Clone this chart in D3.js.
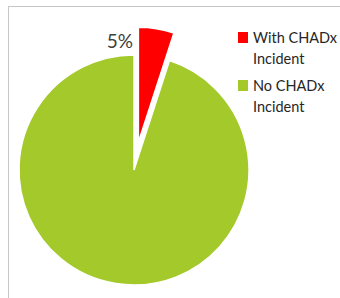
<!DOCTYPE html>
<html>
<head>
<meta charset="utf-8">
<script src="https://cdn.jsdelivr.net/npm/d3@7"></script>
<style>
  body { margin: 0; background: #fff; }
  svg { display: block; }
</style>
</head>
<body>
<svg id="chart"></svg>
<script>
// chart data
var categories = ["With CHADx Incident", "No CHADx Incident"];
var legendLines = [["With CHADx", "Incident"], ["No CHADx", "Incident"]];
var values = [5, 95];
var colors = ["#ff0000", "#a3c92a"];

var svgWidth = 340, svgHeight = 298;
var cx = 134, cy = 170, radius = 115, explode = 28;

var svg = d3.select('#chart')
    .attr("width", svgWidth)
    .attr("height", svgHeight);

// outer frame (only top and left show in the crop)
svg.append("rect")
    .attr("x", 8.5).attr("y", 6.5)
    .attr("width", 400).attr("height", 400)
    .attr("fill", "none")
    .attr("stroke", "#c6c6c6");

var pie = d3.pie().sort(null).value(function (d) { return d; });
var arcs = pie(values);

var arc = d3.arc().innerRadius(0).outerRadius(radius);

var g = svg.append("g")
    .attr("transform", "translate(" + cx + "," + cy + ")");

g.selectAll("path")
    .data(arcs)
    .enter()
    .append("path")
    .attr("d", arc)
    .attr("fill", function (d, i) { return colors[i]; })
    .attr("stroke", "#fff")
    .attr("stroke-width", 1.5)
    .attr("transform", function (d, i) {
        if (i != 0) return null;
        var mid = (d.startAngle + d.endAngle) / 2;
        return "translate(" + [Math.sin(mid) * explode, -Math.cos(mid) * explode] + ")";
    });

// percentage label for the small slice
var total = d3.sum(values);
svg.append("text")
    .attr("x", 133)
    .attr("y", 48)
    .attr("text-anchor", "end")
    .attr("font-family", "Lato, 'Open Sans', sans-serif")
    .attr("font-size", 19)
    .attr("fill", "#404040")
    .text(Math.round(values[0] / total * 100) + "%");

// legend
var legend = svg.selectAll(".legend")
    .data(categories)
    .enter()
    .append("g")
    .attr("class", "legend")
    .attr("transform", function (d, i) { return "translate(238," + (32 + i * 48) + ")"; });

legend.append("rect")
    .attr("width", 10)
    .attr("height", 11)
    .attr("fill", function (d, i) { return colors[i]; });

legend.each(function (d, i) {
    var t = d3.select(this).append("text")
        .attr("x", 15)
        .attr("y", 11)
        .attr("font-family", "Lato, 'Open Sans', sans-serif")
        .attr("font-size", 14.5)
        .attr("fill", "#262626");
    legendLines[i].forEach(function (line, j) {
        t.append("tspan").attr("x", 15).attr("dy", j == 0 ? 0 : 21).text(line);
    });
});
</script>
</body>
</html>
